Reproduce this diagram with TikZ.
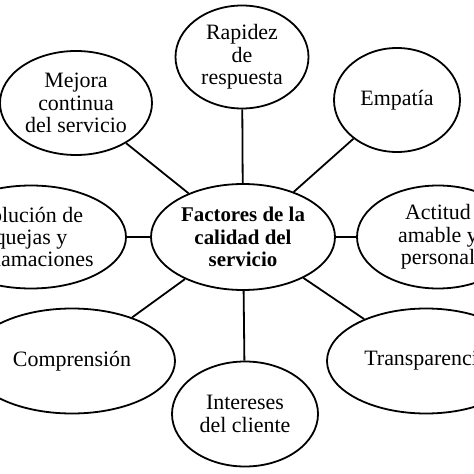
\documentclass[tikz,border=0pt]{standalone}
\usepackage{fontspec}
\setmainfont{Liberation Serif}
\usepackage{tikz}
\usetikzlibrary{shapes.geometric}

\begin{document}
\begin{tikzpicture}[x=1bp, y=-1bp,
  factor/.style={ellipse, draw, line width=1.8bp, align=center, inner sep=0pt,
    font=\fontsize{22}{22.5}\selectfont},
  link/.style={line width=1.8bp}]
% 0. Frame: 474 x 474, y runs downwards as in the figure
\clip (0,0) rectangle (474,474);

% 1. Central factor
\node[factor, minimum width=184bp, minimum height=106bp,
  font=\fontsize{21}{22.5}\selectfont\bfseries] (centro) at (243,237)
  {Factores de la\\calidad del\\servicio};

% 2. Surrounding factors (clockwise from the top)
\node[factor, minimum width=133bp, minimum height=103bp] (rapidez) at (242,57)
  {Rapidez\\de\\respuesta};
\node[factor, minimum width=126bp, minimum height=104bp] (empatia) at (397,100)
  {Empatía};
\node[factor, minimum width=162bp, minimum height=103bp] (actitud) at (438,237)
  {Actitud\\amable y\\personal};
\node[factor, minimum width=198bp, minimum height=105bp] (transparencia) at (426,361)
  {Transparencia};
\node[factor, minimum width=146bp, minimum height=105bp] (intereses) at (245,414)
  {Intereses\\del cliente};
\node[factor, minimum width=206bp, minimum height=105bp] (comprension) at (72,361)
  {Comprensión};
\node[factor, minimum width=190bp, minimum height=103bp] (solucion) at (31,237)
  {Solución de\\quejas y\\reclamaciones};
\node[factor, minimum width=152bp, minimum height=104bp] (mejora) at (76,103)
  {Mejora\\continua\\del servicio};

% 3. Links to the centre
\foreach \n in {rapidez,empatia,actitud,transparencia,intereses,comprension,solucion,mejora}
  \draw[link] (centro) -- (\n);

\end{tikzpicture}
\end{document}
